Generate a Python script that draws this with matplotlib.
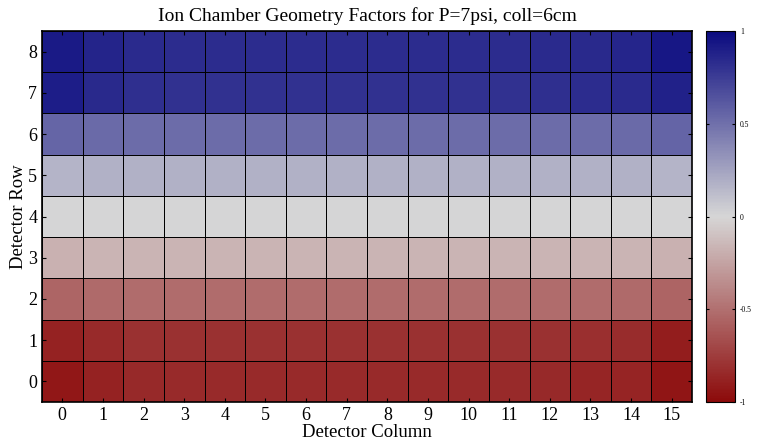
import numpy as np
import matplotlib
matplotlib.use("Agg")
import matplotlib.pyplot as plt
from matplotlib.colors import LinearSegmentedColormap

plt.rcParams['font.family'] = ['Liberation Serif', 'DejaVu Serif']

columns = list(range(16))
rows = list(range(9))

# geometry factor per detector row (row 0 .. row 8), one value per column
row0 = [-0.93, -0.88, -0.85, -0.84, -0.84, -0.84, -0.84, -0.84, -0.84, -0.84, -0.84, -0.84, -0.85, -0.86, -0.87, -0.94]
row1 = [-0.88, -0.84, -0.81, -0.81, -0.81, -0.81, -0.81, -0.81, -0.81, -0.81, -0.81, -0.81, -0.81, -0.82, -0.83, -0.90]
row2 = [-0.55, -0.53, -0.52, -0.52, -0.52, -0.52, -0.52, -0.52, -0.52, -0.52, -0.52, -0.52, -0.52, -0.52, -0.53, -0.56]
row3 = [-0.18, -0.17, -0.17, -0.17, -0.17, -0.17, -0.17, -0.17, -0.17, -0.17, -0.17, -0.17, -0.17, -0.17, -0.17, -0.18]
row4 = [0.00, 0.00, 0.00, 0.00, 0.00, 0.00, 0.00, 0.00, 0.00, 0.00, 0.00, 0.00, 0.00, 0.00, 0.00, 0.00]
row5 = [0.17, 0.18, 0.18, 0.18, 0.18, 0.18, 0.18, 0.18, 0.18, 0.18, 0.18, 0.18, 0.18, 0.18, 0.18, 0.17]
row6 = [0.55, 0.53, 0.52, 0.52, 0.52, 0.52, 0.52, 0.52, 0.52, 0.52, 0.52, 0.52, 0.52, 0.52, 0.53, 0.56]
row7 = [0.90, 0.85, 0.82, 0.81, 0.81, 0.81, 0.81, 0.81, 0.81, 0.81, 0.81, 0.81, 0.82, 0.83, 0.84, 0.89]
row8 = [0.92, 0.87, 0.84, 0.83, 0.83, 0.83, 0.83, 0.83, 0.83, 0.83, 0.83, 0.83, 0.84, 0.85, 0.86, 0.93]

data = np.array([row0, row1, row2, row3, row4, row5, row6, row7, row8])

cmap = LinearSegmentedColormap.from_list(
    "redgraynavy",
    [(0.55, 0.04, 0.04), (0.84, 0.84, 0.84), (0.04, 0.04, 0.50)])

fig = plt.figure(figsize=(7.59, 4.43), dpi=100)
ax = fig.add_axes([42 / 759, 41 / 443, 650 / 759, 371 / 443])
cax = fig.add_axes([706 / 759, 41 / 443, 29 / 759, 371 / 443])

x_edges = np.arange(len(columns) + 1) - 0.5
y_edges = np.arange(len(rows) + 1) - 0.5
mesh = ax.pcolormesh(x_edges, y_edges, data, cmap=cmap, vmin=-1, vmax=1,
                     edgecolors='black', linewidth=0.5)

ax.set_xlim(-0.5, 15.5)
ax.set_ylim(-0.5, 8.5)
ax.set_xticks(columns)
ax.set_yticks(rows)
ax.tick_params(direction='in', top=True, right=True, labelsize=13, length=3)
ax.set_xlabel("Detector Column", fontsize=13.5, labelpad=0)
ax.set_ylabel("Detector Row", fontsize=13.5, labelpad=1)
ax.set_title("Ion Chamber Geometry Factors for P=7psi, coll=6cm", fontsize=14, pad=7)
for s in ax.spines.values():
    s.set_linewidth(1.2)

cb = fig.colorbar(mesh, cax=cax, ticks=[-1, -0.5, 0, 0.5, 1])
cb.ax.set_yticklabels(['-1', '-0.5', '0', '0.5', '1'])
cb.ax.tick_params(labelsize=5.5, direction='in', left=True, right=True, length=2)
cb.outline.set_linewidth(0.8)

fig.savefig("out.png", dpi=100)
